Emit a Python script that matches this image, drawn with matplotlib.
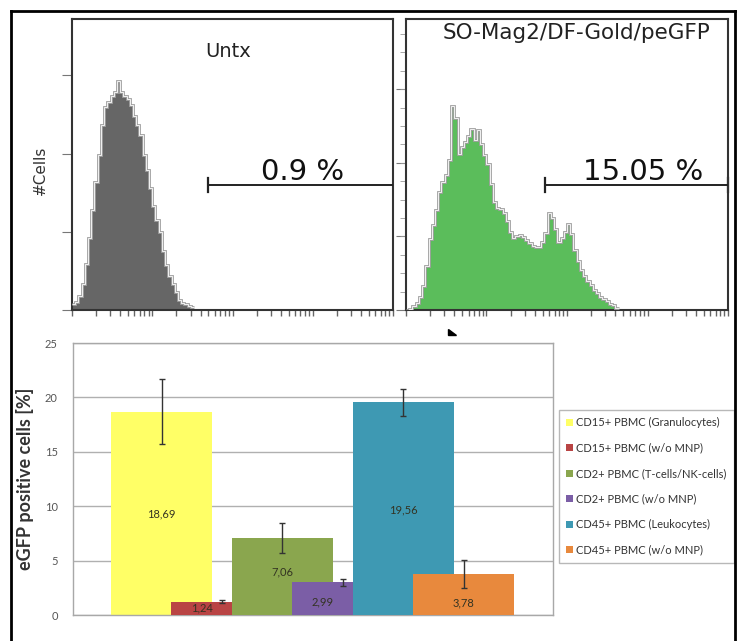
import numpy as np
import matplotlib
matplotlib.use('Agg')
import matplotlib.pyplot as plt
import matplotlib.patches as mpatches
from matplotlib.ticker import LogLocator, NullFormatter, FixedLocator

# --- flow histograms (counts per 0.04-decade bin, starting at 10^0) ---
untx_counts = [6, 8, 14, 26, 46, 72, 100, 128, 155, 185, 203, 208, 214, 218, 229,
               218, 214, 211, 205, 194, 185, 175, 155, 140, 122, 104, 90, 78, 59,
               45, 34, 26, 18, 10, 7, 6, 4, 3]
gfp_counts = [0, 1, 4, 7, 13, 24, 44, 71, 85, 100, 118, 128, 135, 150, 204, 192,
              156, 163, 168, 174, 181, 170, 180, 166, 155, 146, 126, 108, 102, 101,
              97, 89, 78, 72, 74, 75, 73, 70, 67, 64, 63, 63, 68, 77, 97, 92, 81,
              68, 72, 78, 86, 76, 60, 49, 40, 34, 29, 25, 20, 17, 13, 11, 9, 6, 5, 2]
hist_titles = ['Untx', 'SO-Mag2/DF-Gold/peGFP']
gate_start = [50, 53]
gate_level = [125, 125]
gate_labels = ['0.9 %', '15.05 %']
gate_text_x = [750, 870]

# --- bar chart ---
series = ['CD15+ PBMC (Granulocytes)', 'CD15+ PBMC (w/o MNP)',
          'CD2+ PBMC (T-cells/NK-cells)', 'CD2+ PBMC (w/o MNP)',
          'CD45+ PBMC (Leukocytes)', 'CD45+ PBMC (w/o MNP)']
values = [18.69, 1.24, 7.06, 2.99, 19.56, 3.78]
errors = [3.0, 0.13, 1.35, 0.32, 1.25, 1.27]
value_labels = ['18,69', '1,24', '7,06', '2,99', '19,56', '3,78']
colors = ['#ffff66', '#b94444', '#8aa64e', '#7b5ea6', '#3e99b3', '#e8893d']
label_dx = [0, -0.33, 0, -0.33, 0, 0]
label_y = [9.3, 0.64, 3.98, 1.22, 9.65, 1.13]

W, H = 741, 641
fig = plt.figure(figsize=(W / 100, H / 100), dpi=100)


def fbox(x0, y0, x1, y1):
    return [x0 / W, 1 - y1 / H, (x1 - x0) / W, (y1 - y0) / H]


# outer frame
for xs, ys in [([11, 11], [641, 11]), ([11, 735], [11, 11]), ([735, 735], [11, 641])]:
    fig.add_artist(plt.Line2D([x / W for x in xs], [1 - y / H for y in ys],
                              color='black', lw=2))

hist_axes = [fig.add_axes(fbox(72, 19, 393, 310)), fig.add_axes(fbox(406, 19, 728, 310))]
hist_data = [untx_counts, gfp_counts]
fills = ['#666666', '#5bbd5b']
title_pos = [(0.486, 0.887), (0.531, 0.952)]
title_size = [14, 15.5]
for k, ax in enumerate(hist_axes):
    counts = np.array(hist_data[k], dtype=float)
    edges = 10 ** (0.04 * np.arange(len(counts) + 1))
    ax.stairs(counts, edges, fill=True, color=fills[k], zorder=2)
    ax.stairs(counts, edges, color='#a0a0a0', lw=2.0, baseline=None, zorder=3)
    ax.stairs(counts, edges, color='white', lw=0.6, baseline=None, zorder=4)
    ax.set_xscale('log')
    ax.set_xlim(1, 1e4)
    ax.set_ylim(0, 291)
    ax.xaxis.set_major_locator(LogLocator(base=10))
    ax.xaxis.set_minor_locator(LogLocator(base=10, subs=np.arange(2, 10)))
    ax.xaxis.set_major_formatter(NullFormatter())
    ax.xaxis.set_minor_formatter(NullFormatter())
    ax.tick_params(axis='x', which='both', direction='out', length=4, color='#666666', width=1)
    if k == 0:
        ax.yaxis.set_major_locator(FixedLocator([0, 78, 156, 235]))
    else:
        ax.yaxis.set_major_locator(FixedLocator([0, 74, 147, 221]))
        ax.yaxis.set_minor_locator(FixedLocator(np.arange(0, 290, 18.4)))
    ax.set_yticklabels([])
    ax.tick_params(axis='y', which='major', direction='out', length=7, color='#777777')
    ax.tick_params(axis='y', which='minor', direction='out', length=4, color='#999999')
    for s in ax.spines.values():
        s.set_color('#333333')
        s.set_linewidth(1.5)
    ax.text(title_pos[k][0], title_pos[k][1], hist_titles[k], transform=ax.transAxes,
            ha='center', va='center', fontsize=title_size[k], color='#222222')
    ax.plot([gate_start[k], 1e4], [gate_level[k]] * 2, color='#222222', lw=1.4, zorder=5)
    ax.plot([gate_start[k]] * 2, [gate_level[k] - 7, gate_level[k] + 7], color='#222222', lw=1.6)
    if k == 1:
        ax.plot([1e4 * 0.995] * 2, [gate_level[k] - 7, gate_level[k] + 7], color='#222222',
                lw=1.6, clip_on=False)
    ax.text(gate_text_x[k], gate_level[k] - 1, gate_labels[k], ha='center', va='bottom',
            fontsize=21, color='#111111')

fig.text(40 / W, 1 - 170 / H, '#Cells', rotation=90, ha='center', va='center',
         fontsize=11, color='#333333')

# cursor arrow
fig.add_artist(mpatches.Polygon([(448 / W, 1 - 329 / H), (448 / W, 1 - 335 / H),
                                 (456 / W, 1 - 335 / H)], closed=True, color='black'))

# --- bar chart ---
bx = fig.add_axes(fbox(73, 343, 553, 615))
pos = np.arange(len(values))
for i in range(len(values)):
    bx.bar(pos[i], values[i], width=1.67, color=colors[i], zorder=2 + i, label=series[i])
bx.errorbar(pos, values, yerr=errors, fmt='none', ecolor='#333333', elinewidth=1,
            capsize=2.5, capthick=1, zorder=20)
for i in range(len(values)):
    bx.text(pos[i] + label_dx[i], label_y[i], value_labels[i], ha='center', va='center',
            fontsize=8, family='Lato', color='#333322', zorder=21)
bx.set_xlim(-1.465, 6.48)
bx.set_ylim(0, 25)
bx.set_yticks([0, 5, 10, 15, 20, 25])
bx.set_xticks([])
bx.yaxis.grid(True, color='#b0b0b0', lw=1)
bx.set_axisbelow(True)
bx.tick_params(axis='y', length=0, pad=11, labelsize=8, labelcolor='#555555')
for lab in bx.get_yticklabels():
    lab.set_family('Lato')
for s in bx.spines.values():
    s.set_color('#a8a8a8')
    s.set_linewidth(1)
fig.text(25 / W, 1 - 479 / H, 'eGFP positive cells [%]', rotation=90, ha='center',
         va='center', fontsize=13, family='Lato', weight='bold', color='#333333')

leg = bx.legend(loc='upper left', bbox_to_anchor=(559 / W, 1 - 410 / H),
                bbox_transform=fig.transFigure, borderaxespad=0, fancybox=False,
                edgecolor='#b8b8b8', prop={'family': 'Lato', 'size': 8},
                handlelength=0.6, handleheight=0.6, handletextpad=0.3,
                labelspacing=1.3, borderpad=0.65, framealpha=1)
for t in leg.get_texts():
    t.set_color('#333333')

fig.savefig('out.png', dpi=100)
